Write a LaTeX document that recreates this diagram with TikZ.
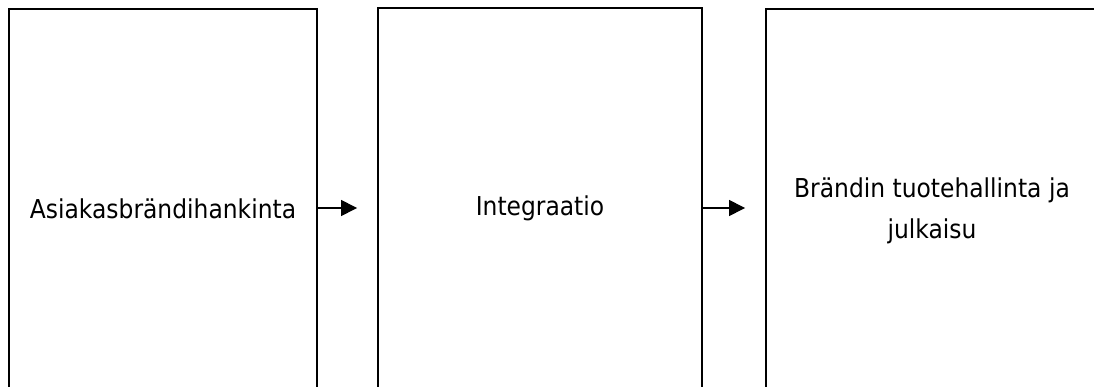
\documentclass[tikz,border=0pt]{standalone}
\usepackage{fontspec}
\setmainfont{DejaVu Sans}[FakeStretch=0.9]
\usetikzlibrary{arrows.meta}
\tikzset{
  stage/.style={draw=black, line width=1.9pt, minimum height=400pt,
    inner sep=0pt, align=center,
    font=\fontsize{26}{41}\selectfont},
  flow/.style={line width=1.4pt,
    -{Triangle[length=16pt,width=16pt]}, shorten >=20pt}
}
\begin{document}
\begin{tikzpicture}[x=1pt,y=-1pt]
  \clip (0,0) rectangle (1094,387);
  \fill[white] (0,0) rectangle (1094,387);
  \node[stage, minimum width=308pt] (b1) at (163,209) {Asiakasbrändihankinta};
  \node[stage, minimum width=324pt] (b2) at (540,208) {Integraatio};
  \node[stage, minimum width=332pt, minimum height=404pt] (b3) at (932,211) {Brändin tuotehallinta ja\\julkaisu};
  \draw[flow] (b1.east |- b2.west) -- (b2.west);
  \draw[flow] (b2.east) -- (b2.east -| b3.west);
\end{tikzpicture}
\end{document}
